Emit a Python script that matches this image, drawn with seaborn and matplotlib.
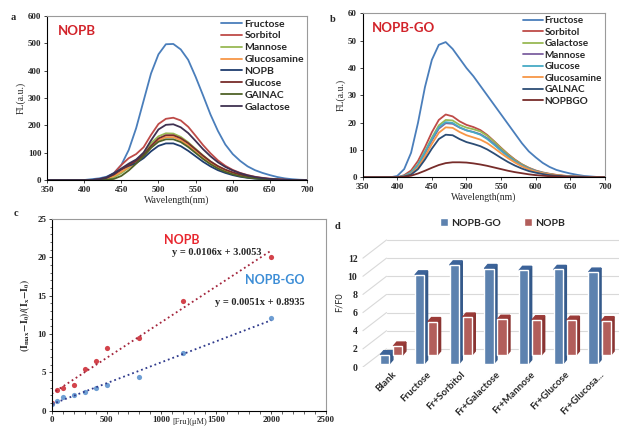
import numpy as np
import pandas as pd
import seaborn as sns
import matplotlib.pyplot as plt
from matplotlib.patches import Polygon
from matplotlib.ticker import MultipleLocator

# ---------------- data ----------------
wl = list(range(350, 701, 10))

# panel a : NOPB spectra
a_names = ["Fructose", "Sorbitol", "Mannose", "Glucosamine", "NOPB", "Glucose", "GAlNAC", "Galactose"]
a_fructose = [0, 0, 0, 0, 0, 0, 3, 6, 12, 25, 55, 110, 190, 290, 390, 460, 497, 498, 478, 440,
              378, 310, 240, 180, 130, 95, 70, 50, 36, 26, 18, 11, 6, 3, 1, 0]
a_sorbitol = [0, 0, 0, 0, 0, 0, 0, 2, 8, 25, 55, 80, 95, 120, 165, 205, 224, 228, 218, 195,
              162, 128, 98, 72, 52, 37, 26, 18, 12, 8, 5, 3, 1, 0, 0, 0]
a_mannose = [0, 0, 0, 0, 0, 0, 0, 0, 3, 10, 25, 45, 70, 100, 135, 160, 171, 170, 158, 138,
             114, 90, 68, 50, 36, 26, 18, 12, 8, 5, 3, 1, 0, 0, 0, 0]
a_glucosamine = [0, 0, 0, 0, 0, 0, 0, 0, 5, 15, 30, 47, 62, 85, 118, 145, 157, 157, 146, 127,
                 104, 81, 61, 45, 32, 23, 16, 11, 7, 4, 2, 1, 0, 0, 0, 0]
a_nopb = [0, 0, 0, 0, 0, 0, 0, 3, 10, 25, 40, 52, 62, 80, 105, 125, 134, 134, 124, 107,
          87, 67, 50, 36, 26, 18, 12, 8, 5, 3, 2, 1, 0, 0, 0, 0]
a_glucose = [0, 0, 0, 0, 0, 0, 0, 2, 8, 20, 38, 55, 70, 92, 125, 152, 164, 164, 153, 135,
             112, 89, 68, 51, 38, 28, 20, 14, 9, 6, 3, 2, 1, 0, 0, 0]
a_galnac = [0, 0, 0, 0, 0, 0, 0, 0, 1, 4, 15, 35, 60, 88, 118, 140, 149, 149, 139, 121,
            99, 77, 58, 42, 30, 21, 14, 9, 6, 4, 2, 1, 0, 0, 0, 0]
a_galactose = [0, 0, 0, 0, 0, 0, 0, 2, 8, 22, 42, 60, 75, 100, 145, 185, 202, 204, 193, 172,
               143, 113, 87, 65, 48, 35, 25, 17, 11, 7, 4, 2, 1, 0, 0, 0]
a_colors = ["#4A7EBB", "#BE4B48", "#98B954", "#F79646", "#1F3D6E", "#772C2A", "#4F6228", "#3F3151"]

# panel b : NOPB-GO spectra
b_names = ["Fructose", "Sorbitol", "Galactose", "Mannose", "Glucose", "Glucosamine", "GALNAC", "NOPBGO"]
b_fructose = [0, 0, 0, 0, 0, 0.5, 3, 9, 20, 33, 43, 48.5, 49.5, 47, 43.5, 40, 37, 33.5, 30, 26.5,
              23, 19.5, 16, 12.5, 9.5, 7.3, 5.3, 3.8, 2.7, 2, 1.4, 0.9, 0.5, 0.3, 0.1, 0]
b_sorbitol = [0, 0, 0, 0, 0, 0, 0.8, 2.5, 6, 11, 16.5, 21, 23, 22.3, 20.5, 19.2, 18.4, 17.3, 15.5, 13.2,
              10.8, 8.5, 6.5, 4.8, 3.5, 2.5, 1.8, 1.3, 0.9, 0.6, 0.4, 0.2, 0.1, 0, 0, 0]
b_galactose = [0, 0, 0, 0, 0, 0, 0.5, 1.8, 4.8, 9.5, 14.5, 19, 21, 20.8, 19.2, 18.2, 17.6, 16.8, 15.2, 13,
               10.6, 8.3, 6.3, 4.7, 3.4, 2.4, 1.7, 1.2, 0.8, 0.5, 0.3, 0.2, 0.1, 0, 0, 0]
b_mannose = [0, 0, 0, 0, 0, 0, 0.4, 1.5, 4.2, 8.7, 13.5, 17.8, 19.8, 19.6, 18.2, 17.2, 16.6, 15.8, 14.3, 12.2,
             9.9, 7.8, 5.9, 4.4, 3.2, 2.3, 1.6, 1.1, 0.7, 0.5, 0.3, 0.2, 0.1, 0, 0, 0]
b_glucose = [0, 0, 0, 0, 0, 0, 0.5, 1.7, 4.6, 9.2, 14, 18.3, 20.2, 19.9, 18.3, 17.2, 16.5, 15.6, 14, 11.9,
             9.7, 7.6, 5.8, 4.3, 3.1, 2.2, 1.6, 1.1, 0.7, 0.5, 0.3, 0.2, 0.1, 0, 0, 0]
b_glucosamine = [0, 0, 0, 0, 0, 0, 0.3, 1.2, 3.6, 7.6, 12.2, 16.3, 18.3, 18.1, 16.6, 15.4, 14.6, 13.8, 12.5, 10.7,
                 8.8, 7, 5.4, 4, 2.9, 2.1, 1.5, 1.1, 0.8, 0.6, 0.4, 0.3, 0.2, 0.1, 0.1, 0]
b_galnac = [0, 0, 0, 0, 0, 0, 0.3, 1, 3, 6.5, 10.5, 14, 15.6, 15.4, 14, 12.9, 12.2, 11.4, 10.2, 8.7,
            7.1, 5.6, 4.3, 3.2, 2.3, 1.7, 1.2, 0.8, 0.6, 0.4, 0.3, 0.2, 0.1, 0, 0, 0]
b_nopbgo = [0, 0, 0, 0, 0, 0, 0.2, 0.6, 1.4, 2.4, 3.5, 4.5, 5.2, 5.5, 5.5, 5.4, 5.1, 4.7, 4.2, 3.6,
            3, 2.4, 1.9, 1.5, 1.1, 0.8, 0.6, 0.4, 0.3, 0.2, 0.1, 0.05, 0, 0, 0, 0]
b_colors = ["#4A7EBB", "#BE4B48", "#98B954", "#7D60A0", "#46AAC5", "#F79646", "#2C4D75", "#772C2A"]

# panel c : calibration
c_conc = [0, 50, 100, 200, 300, 400, 500, 800, 1200, 2000]
c_nopb = [1.0, 2.7, 3.0, 3.3, 5.4, 6.5, 8.2, 9.5, 14.3, 20.0]
c_nopbgo = [0.9, 1.3, 1.8, 2.0, 2.5, 2.9, 3.4, 4.4, 7.5, 12.1]

# panel d : F/F0
d_labels = ["Blank", "Fructose", "Fr+Sorbitol", "Fr+Galactose", "Fr+Mannose", "Fr+Glucose", "Fr+Glucosa..."]
d_nopbgo = [1.0, 9.8, 10.9, 10.5, 10.3, 10.4, 10.1]
d_nopb = [1.0, 3.7, 4.2, 3.95, 3.9, 3.85, 3.8]

# ---------------- style ----------------
sns.set_style("ticks")
plt.rcParams["font.family"] = ["Liberation Serif", "DejaVu Serif"]
plt.rcParams["font.weight"] = "bold"
plt.rcParams["mathtext.fontset"] = "stix"
SANS = ["Lato", "DejaVu Sans"]

fig = plt.figure(figsize=(6.22, 4.28), dpi=100)
ax_a = fig.add_axes([0.0756, 0.5794, 0.418, 0.383])
ax_b = fig.add_axes([0.583, 0.5857, 0.3896, 0.383])
ax_c = fig.add_axes([0.0831, 0.0404, 0.441, 0.448])
ax_d = fig.add_axes([0.579, 0.1425, 0.4156, 0.301])


def frame(ax):
    for s in ["left", "bottom"]:
        ax.spines[s].set_color("black")
        ax.spines[s].set_linewidth(0.8)
    for s in ["top", "right"]:
        ax.spines[s].set_visible(True)
        ax.spines[s].set_color("#9A9A9A")
        ax.spines[s].set_linewidth(0.8)
    ax.tick_params(direction="out", length=2.5, width=0.6, labelsize=6.5, pad=1.5)


def spectrum(ax, names, curves, colors, ymax, ystep, title, fs):
    df = pd.DataFrame(dict(zip(names, curves)), index=wl)
    sns.lineplot(data=df, palette=colors, dashes=False, linewidth=1.3, ax=ax)
    ax.set_xlim(350, 700)
    ax.set_ylim(0, ymax)
    ax.xaxis.set_major_locator(MultipleLocator(50))
    ax.yaxis.set_major_locator(MultipleLocator(ystep))
    ax.set_xlabel("Wavelength(nm)", fontsize=7, labelpad=1)
    ax.set_ylabel("FL(a.u.)", fontsize=7, labelpad=2)
    frame(ax)
    ax.legend(loc="upper right", frameon=False, prop=dict(family=SANS, weight="bold", size=fs),
              handlelength=2.0, handletextpad=0.2, labelspacing=0.25 if fs > 7 else 0.2,
              borderaxespad=0.1, borderpad=0.2)
    ax.text(0.04, 0.91, title, transform=ax.transAxes, color="#D2232A",
            family=SANS, weight="bold", fontsize=9.5, va="center")


spectrum(ax_a, a_names, [a_fructose, a_sorbitol, a_mannose, a_glucosamine, a_nopb,
                         a_glucose, a_galnac, a_galactose], a_colors, 600, 100, "NOPB", 7.5)
spectrum(ax_b, b_names, [b_fructose, b_sorbitol, b_galactose, b_mannose, b_glucose,
                         b_glucosamine, b_galnac, b_nopbgo], b_colors, 60, 10, "NOPB-GO", 7.2)

# ---------------- panel c ----------------
sns.regplot(x=c_conc, y=c_nopb, ci=None, ax=ax_c, color="#C8141E",
            scatter_kws=dict(s=14, linewidths=0), line_kws=dict(ls=":", lw=1.3, color="#A3243B"))
sns.regplot(x=c_conc, y=c_nopbgo, ci=None, ax=ax_c, color="#4A86C8",
            scatter_kws=dict(s=14, linewidths=0), line_kws=dict(ls=":", lw=1.3, color="#2F3A8C"))
ax_c.set_xlim(0, 2500)
ax_c.set_ylim(0, 25)
ax_c.xaxis.set_major_locator(MultipleLocator(500))
ax_c.xaxis.set_minor_locator(MultipleLocator(100))
ax_c.yaxis.set_major_locator(MultipleLocator(5))
ax_c.yaxis.set_minor_locator(MultipleLocator(1))
frame(ax_c)
ax_c.tick_params(which="minor", direction="out", length=1.8, width=0.5)
ax_c.set_ylabel(r"$\mathbf{(I_{max}\!-\!I_0)/(I_x\!-\!I_0)}$", fontsize=7, labelpad=4)
ax_c.set_xlabel("[Fru](μM)", fontsize=6)
ax_c.xaxis.set_label_coords(0.504, -0.036)
ax_c.xaxis.label.set_va("top")
ax_c.text(1188, 22.3, "NOPB", color="#E8262E", family=SANS, weight="bold", fontsize=9, ha="center", va="center")
ax_c.text(1507, 20.6, "y = 0.0106x + 3.0053", fontsize=7.5, ha="center", va="center")
ax_c.text(2035, 17.0, "NOPB-GO", color="#3C8DD6", family=SANS, weight="bold", fontsize=9, ha="center", va="center")
ax_c.text(1900, 14.1, "y = 0.0051x + 0.8935", fontsize=7.5, ha="center", va="center")

# ---------------- panel d ----------------
d_df = pd.DataFrame({"cat": d_labels * 2,
                     "val": d_nopbgo + d_nopb,
                     "series": ["NOPB-GO"] * len(d_labels) + ["NOPB"] * len(d_labels)})
sns.barplot(data=d_df, x="cat", y="val", hue="series", palette=["#4F81BD", "#C0504D"],
            width=0.75, gap=0.3, ax=ax_d, zorder=3)
ax_d.set_xlim(-0.9, 6.55)
ax_d.set_ylim(0, 14.2)

# back wall and floor lines of the 3-D look
for v in range(0, 13, 2):
    ax_d.plot([-0.82, -0.14], [v, v + 2], color="#D9D9D9", lw=0.8, zorder=1)
    ax_d.plot([-0.14, 6.55], [v + 2, v + 2], color="#D9D9D9", lw=0.8, zorder=1)

lift = {0: 0.35, 1: 1.3}
side_col = {0: "#34598A", 1: "#8A3432"}
top_col = {0: "#3C6399", 1: "#9B3B38"}
dx, dy = 0.1, 0.45
for k, cont in enumerate(ax_d.containers):
    for p in cont:
        p.set_y(p.get_y() + lift[k])
        x0, y0 = p.get_x(), p.get_y()
        x1, y1 = x0 + p.get_width(), y0 + p.get_height()
        ax_d.add_patch(Polygon([(x1, y0), (x1 + dx, y0 + dy), (x1 + dx, y1 + dy), (x1, y1)],
                               closed=True, color=side_col[k], zorder=2.9))
        ax_d.add_patch(Polygon([(x0, y1), (x0 + dx, y1 + dy), (x1 + dx, y1 + dy), (x1, y1)],
                               closed=True, color=top_col[k], zorder=2.9))

ax_d.set_yticks(range(0, 13, 2))
ax_d.set_xlabel("")
ax_d.set_ylabel("F/F0", family=SANS, fontsize=6.5, labelpad=3)
sns.despine(ax=ax_d, left=True, bottom=True)
ax_d.tick_params(axis="both", length=0, labelsize=7, pad=2)
ax_d.set_xticks(range(len(d_labels)))
ax_d.set_xticklabels(d_labels, rotation=45, ha="right", rotation_mode="anchor",
                     family=SANS, fontsize=7, weight="bold")
ax_d.legend(loc="center", bbox_to_anchor=(0.55, 1.12), ncol=2, frameon=False,
            prop=dict(family=SANS, weight="bold", size=7.5), handlelength=0.8,
            handleheight=0.8, handletextpad=0.3, columnspacing=2.2)

# panel letters
for txt, x, y in [("a", 0.022, 0.96), ("b", 0.535, 0.955), ("c", 0.025, 0.50), ("d", 0.543, 0.47)]:
    fig.text(x, y, txt, fontsize=7.5, weight="bold", ha="center", va="center")

fig.savefig("out.png", dpi=100)
